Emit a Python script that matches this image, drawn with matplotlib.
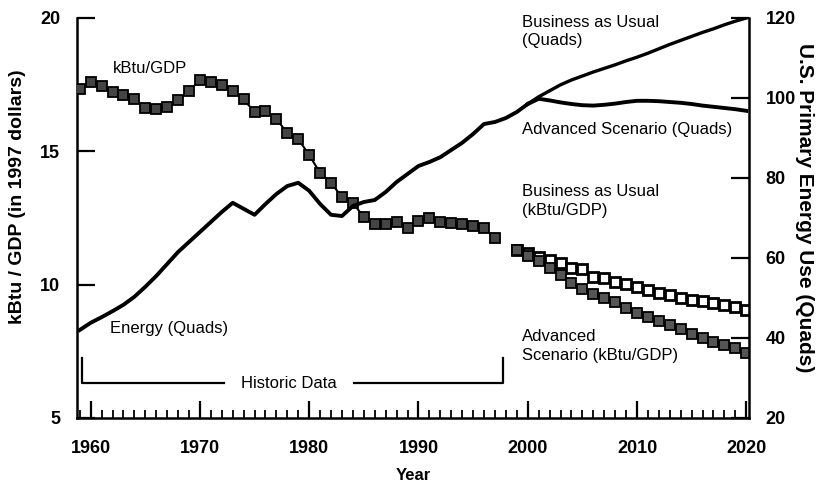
import numpy as np
import matplotlib
matplotlib.use("Agg")
import matplotlib.pyplot as plt
from matplotlib.ticker import MultipleLocator

plt.rcParams["font.family"] = ["Liberation Sans", "DejaVu Sans"]

# historic energy intensity (kBtu per 1997 dollar of GDP)
hist_years = np.arange(1959, 1998)
hist_kbtu = [17.34, 17.60, 17.45, 17.22, 17.11, 16.96, 16.63, 16.59, 16.67, 16.92,
             17.26, 17.67, 17.60, 17.49, 17.26, 16.95, 16.47, 16.51, 16.21, 15.69,
             15.46, 14.86, 14.19, 13.81, 13.29, 13.06, 12.54, 12.27, 12.27, 12.35,
             12.12, 12.39, 12.50, 12.35, 12.31, 12.27, 12.20, 12.12, 11.75]

# primary energy use, quads
energy_years = np.arange(1959, 2001)
energy_quads = [42.0, 43.8, 45.2, 46.7, 48.3, 50.3, 52.8, 55.5, 58.5, 61.5,
                64.0, 66.5, 69.0, 71.5, 73.8, 72.3, 70.8, 73.5, 76.0, 78.0,
                78.8, 76.8, 73.5, 70.8, 70.5, 73.0, 74.0, 74.5, 76.5, 79.0,
                81.0, 83.0, 84.0, 85.2, 87.0, 88.8, 91.0, 93.5, 94.0, 95.0,
                96.5, 98.5]

proj_years = np.arange(2000, 2021)
bau_quads = [98.5, 100.3, 101.8, 103.3, 104.5, 105.5, 106.5, 107.4, 108.3, 109.3,
             110.2, 111.2, 112.3, 113.4, 114.4, 115.4, 116.4, 117.3, 118.3, 119.2,
             120.0]
adv_quads = [98.5, 99.8, 99.4, 98.9, 98.5, 98.2, 98.1, 98.3, 98.6, 99.0,
             99.3, 99.3, 99.2, 99.0, 98.8, 98.5, 98.1, 97.8, 97.5, 97.2,
             96.8]

kbtu_proj_years = np.arange(1999, 2021)
bau_kbtu = [11.30, 11.19, 11.04, 10.92, 10.81, 10.62, 10.59, 10.29, 10.25, 10.10,
            10.02, 9.91, 9.80, 9.69, 9.61, 9.50, 9.42, 9.39, 9.31, 9.24,
            9.16, 9.05]
adv_kbtu = [11.30, 11.07, 10.89, 10.62, 10.36, 10.06, 9.84, 9.65, 9.50, 9.35,
            9.12, 8.94, 8.79, 8.64, 8.49, 8.34, 8.15, 8.00, 7.85, 7.74,
            7.62, 7.44]

fig = plt.figure(figsize=(8.18, 4.88), dpi=100)
ax = fig.add_axes([77 / 818, 1 - 418 / 488, 672 / 818, 400 / 488])
ax2 = ax.twinx()

# intensity series on the left axis
ax.plot(hist_years, hist_kbtu, color="black", lw=1.5, marker="s", ms=7,
        mfc="#444444", mec="black", mew=1.3, zorder=4)
ax.plot(kbtu_proj_years, bau_kbtu, ls="none", marker="s", ms=7.8,
        mfc="white", mec="black", mew=2.0, zorder=3)
ax.plot(kbtu_proj_years, adv_kbtu, color="black", lw=1.2, marker="s", ms=7,
        mfc="#555555", mec="black", mew=1.3, zorder=4)

# energy use on the right axis
ax2.plot(energy_years, energy_quads, color="black", lw=2.8, solid_joinstyle="round")
ax2.plot(proj_years, bau_quads, color="black", lw=2.4)
ax2.plot(proj_years, adv_quads, color="black", lw=2.8)

ax.set_xlim(1958.75, 2020.25)
ax.set_ylim(5, 20)
ax2.set_ylim(20, 120)

ax.xaxis.set_major_locator(MultipleLocator(10))
ax.xaxis.set_minor_locator(MultipleLocator(1))
ax.yaxis.set_major_locator(MultipleLocator(5))
ax2.yaxis.set_major_locator(MultipleLocator(20))

for a in (ax, ax2):
    a.spines["top"].set_visible(False)
    for s in ("left", "right", "bottom"):
        a.spines[s].set_linewidth(1.8)
ax.spines["right"].set_visible(False)
ax2.spines["left"].set_visible(False)
ax2.spines["bottom"].set_visible(False)

ax.tick_params(axis="x", which="major", direction="in", length=12, width=1.6, pad=16)
ax.tick_params(axis="x", which="minor", direction="in", length=6, width=1.3)
ax.tick_params(axis="y", direction="in", length=13, width=1.6, pad=12)
ax2.tick_params(axis="y", direction="in", length=13, width=1.6, pad=12)
for lab in ax.get_xticklabels() + ax.get_yticklabels() + ax2.get_yticklabels():
    lab.set_fontsize(13)
    lab.set_fontweight("bold")

ax.set_xlabel("Year", fontsize=12, fontweight="bold", labelpad=8)
ax.set_ylabel("kBtu / GDP (in 1997 dollars)", fontsize=14, fontweight="bold")
ax.yaxis.set_label_coords(-0.076, 0.5525)
ax2.set_ylabel("U.S. Primary Energy Use (Quads)", fontsize=15, fontweight="bold",
               rotation=-90, va="center", ha="center")
ax2.yaxis.set_label_coords(1.082, 0.525)

note = dict(fontsize=12, color="black", linespacing=1.3)
ax.text(1962.0, 18.12, "kBtu/GDP", va="center", ha="left", **note)
ax.text(1961.75, 8.37, "Energy (Quads)", va="center", ha="left", **note)
ax.text(1999.45, 19.5, "Business as Usual\n(Quads)", va="center", ha="left", **note)
ax.text(1999.45, 15.8, "Advanced Scenario (Quads)", va="center", ha="left", **note)
ax.text(1999.45, 13.14, "Business as Usual\n(kBtu/GDP)", va="center", ha="left", **note)
ax.text(1999.45, 7.7, "Advanced\nScenario (kBtu/GDP)", va="center", ha="left", **note)

# bracket marking the historic period
ax.plot([1959.2, 1959.2, 1972.2], [7.25, 6.31, 6.31], color="black", lw=1.6)
ax.plot([1984.1, 1997.7, 1997.7], [6.31, 6.31, 7.25], color="black", lw=1.6)
ax.text(1978.1, 6.31, "Historic Data", va="center", ha="center", **note)

fig.savefig("out.png", dpi=100)
